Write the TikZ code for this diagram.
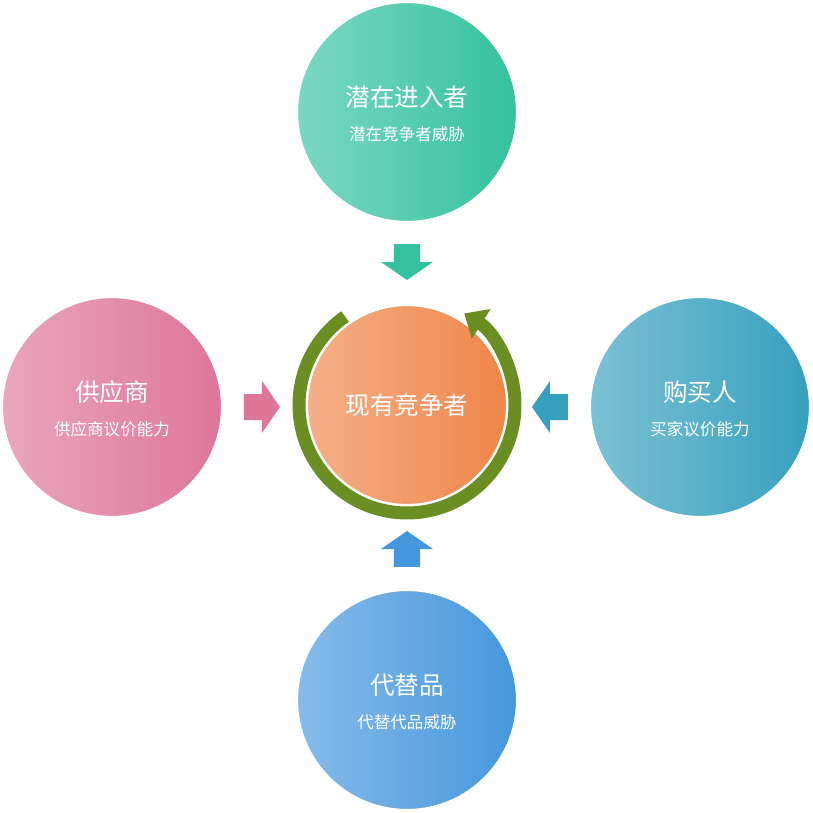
\documentclass[tikz,border=0pt]{standalone}
\usepackage{fontspec}
\setmainfont{Noto Sans CJK SC}
\usetikzlibrary{arrows.meta}
\definecolor{topc}{HTML}{34C29E}
\definecolor{leftc}{HTML}{DE7698}
\definecolor{rightc}{HTML}{36A0BE}
\definecolor{botc}{HTML}{4597DD}
\definecolor{midc}{HTML}{EF8548}
\definecolor{ringc}{HTML}{6B8E23}
\tikzset{
  force/.style={circle, minimum size=2.2cm, inner sep=0pt, draw=white, line width=0.6pt,
    shading angle=-45, left color=#1!65!white, right color=#1, text=white, align=center},
  title/.style={font=\fontsize{7}{8}\selectfont},
  sub/.style={font=\fontsize{4.7}{6}\selectfont},
  pics/push/.style={code={
    \fill[#1] (-0.18,-0.13) -- (0.0,-0.13) -- (0.0,-0.26) -- (0.18,0) -- (0.0,0.26)
      -- (0.0,0.13) -- (-0.18,0.13) -- cycle;}}
}
\begin{document}
\begin{tikzpicture}
\useasboundingbox (0,0) rectangle (8.13,8.13);
\node[force=topc] (entrant) at (4.07,7.01) {};
\node[force=leftc] (supplier) at (1.12,4.06) {};
\node[force=rightc] (buyer) at (7.00,4.06) {};
\node[force=botc] (subst) at (4.07,1.13) {};
\node[force=midc, minimum size=2.0cm] (rival) at (4.07,4.08) {};
\draw[ringc, line width=0.13cm, -{Triangle[width=0.34cm,length=0.2cm]}]
  (4.07,4.08) ++(125:1.08) arc (125:418:1.08);
\node[title, text=white] at ([yshift=0.15cm]entrant.center) {潜在进入者};
\node[sub, text=white] at ([yshift=-0.22cm]entrant.center) {潜在竞争者威胁};
\node[title, text=white] at ([yshift=0.15cm]supplier.center) {供应商};
\node[sub, text=white] at ([yshift=-0.22cm]supplier.center) {供应商议价能力};
\node[title, text=white] at ([yshift=0.15cm]buyer.center) {购买人};
\node[sub, text=white] at ([yshift=-0.22cm]buyer.center) {买家议价能力};
\node[title, text=white] at ([yshift=0.15cm]subst.center) {代替品};
\node[sub, text=white] at ([yshift=-0.22cm]subst.center) {代替代品威胁};
\node[title, text=white] at (rival.center) {现有竞争者};
\pic[rotate=-90] at (4.07,5.51) {push=topc};
\pic at (2.62,4.06) {push=leftc};
\pic[rotate=180] at (5.50,4.06) {push=rightc};
\pic[rotate=90] at (4.07,2.64) {push=botc};
\end{tikzpicture}
\end{document}
